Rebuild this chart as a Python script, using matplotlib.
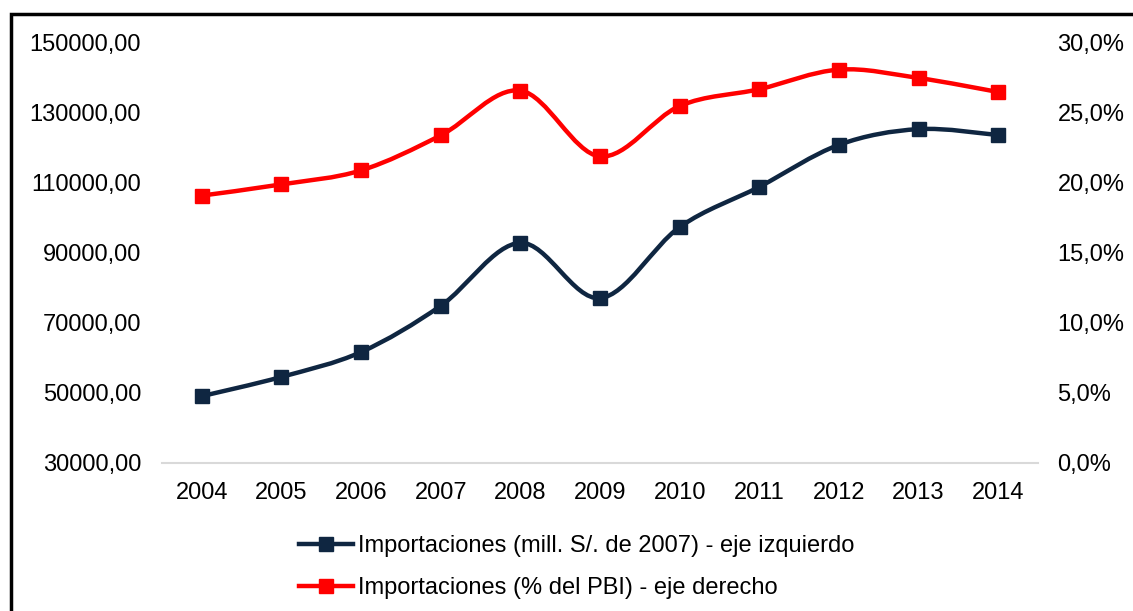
import matplotlib.pyplot as plt
import numpy as np
from matplotlib.path import Path
from matplotlib.patches import PathPatch, Rectangle
from matplotlib.lines import Line2D
from matplotlib.ticker import FuncFormatter

plt.rcParams['font.family'] = ['Liberation Sans', 'DejaVu Sans']

# Data
years = ['2004', '2005', '2006', '2007', '2008', '2009', '2010', '2011', '2012', '2013', '2014']
imports_mill = [49100, 54600, 61700, 74900, 92900, 77100, 97400, 108900, 120900, 125400, 123700]
imports_pct = [19.1, 19.9, 20.9, 23.4, 26.6, 21.9, 25.5, 26.7, 28.1, 27.5, 26.5]

navy = '#0f2641'
red = '#ff0000'


def smooth_path(xs, ys):
    # Excel-style smoothed line: cubic bezier segments through each point
    xs = np.asarray(xs, float)
    ys = np.asarray(ys, float)
    pts = np.column_stack([xs, ys])
    n = len(pts)
    verts = [pts[0]]
    codes = [Path.MOVETO]
    for i in range(n - 1):
        p0 = pts[i - 1] if i > 0 else pts[i]
        p1 = pts[i]
        p2 = pts[i + 1]
        p3 = pts[i + 2] if i + 2 < n else pts[i + 1]
        c1 = p1 + (p2 - p0) / 6.0
        c2 = p2 - (p3 - p1) / 6.0
        verts += [c1, c2, p2]
        codes += [Path.CURVE4] * 3
    return Path(verts, codes)


fig = plt.figure(figsize=(11.33, 6.11), dpi=100)
ax = fig.add_axes([162 / 1133, 1 - 463 / 611, (1038 - 162) / 1133, (463 - 43) / 611])
ax2 = ax.twinx()

x = np.arange(len(years))
lw = 3.2
ms = 9.5

ax.add_patch(PathPatch(smooth_path(x, imports_mill), fill=False, edgecolor=navy, lw=lw, zorder=3))
ax.plot(x, imports_mill, ls='none', marker='s', ms=ms, color=navy, zorder=4)

ax2.add_patch(PathPatch(smooth_path(x, imports_pct), fill=False, edgecolor=red, lw=lw, zorder=3))
ax2.plot(x, imports_pct, ls='none', marker='s', ms=ms, color=red, zorder=4)

ax.set_xlim(-0.5, len(years) - 0.5)
ax.set_ylim(30000, 150000)
ax.set_yticks(np.arange(30000, 150001, 20000))
ax2.set_ylim(0, 30)
ax2.set_yticks(np.arange(0, 30.1, 5))
ax.set_xticks(x)
ax.set_xticklabels(years)

ax.yaxis.set_major_formatter(FuncFormatter(lambda v, p: f'{v:.2f}'.replace('.', ',')))
ax2.yaxis.set_major_formatter(FuncFormatter(lambda v, p: f'{v:.1f}'.replace('.', ',') + '%'))

for a in (ax, ax2):
    for s in a.spines.values():
        s.set_visible(False)
    a.tick_params(length=0, labelsize=17, colors='black')
ax.tick_params(axis='y', pad=15)
ax.tick_params(axis='x', pad=14)
ax2.tick_params(axis='y', pad=14)
ax.spines['bottom'].set_visible(True)
ax.spines['bottom'].set_color('#d9d9d9')
ax.spines['bottom'].set_linewidth(1.5)

# frame border (cropped at the right and bottom)
fig.patches.append(Rectangle((11 / 1133, -0.1), 1.2, 1 - 14 / 611 + 0.1, transform=fig.transFigure,
                             fill=False, edgecolor='black', lw=2.5))

handles = [
    Line2D([], [], color=navy, lw=lw, marker='s', ms=ms),
    Line2D([], [], color=red, lw=lw, marker='s', ms=ms),
]
labels = ['Importaciones (mill. S/. de 2007) - eje izquierdo',
          'Importaciones (% del PBI) - eje derecho']
fig.legend(handles, labels, loc='upper left', bbox_to_anchor=(299 / 1133, 1 - 535 / 611),
           frameon=False, fontsize=17, handlelength=2.3, handletextpad=0.2,
           labelspacing=0.85, borderaxespad=0, borderpad=0)

fig.savefig('out.png', dpi=100)
